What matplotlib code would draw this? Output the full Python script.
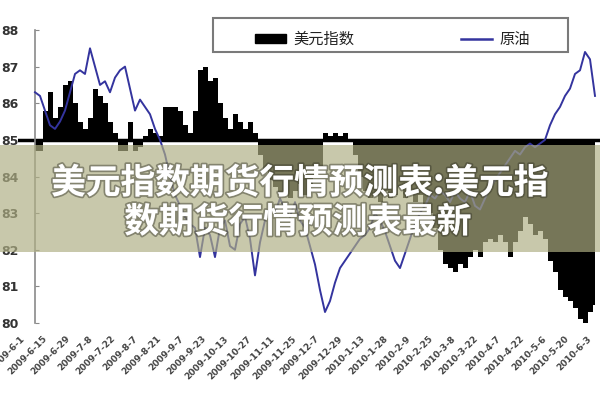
import matplotlib
matplotlib.use("Agg")
import numpy as np
import matplotlib.pyplot as plt
import matplotlib.patches as mpatches
import matplotlib.lines as mlines
import matplotlib.patheffects as pe

plt.rcParams['font.family'] = ['Noto Sans CJK SC', 'DejaVu Sans']

# 美元指数 (weekly readings, same scale as the axis)
dxy = [84.7, 84.7, 85.8, 86.3, 85.6, 85.9, 86.5, 86.6, 86.0, 85.5,
       85.3, 85.6, 86.4, 86.2, 86.0, 85.5, 85.2, 84.7, 84.7, 85.5,
       84.7, 84.8, 85.1, 85.3, 85.2, 85.1, 85.9, 85.9, 85.9, 85.8,
       85.4, 85.2, 85.8, 86.9, 87.0, 86.6, 86.7, 86.0, 85.6, 85.3,
       85.7, 85.5, 85.3, 85.5, 85.2, 84.6, 84.2, 83.9, 83.7, 83.5,
       83.6, 83.4, 83.6, 83.8, 83.5, 83.7, 84.0, 84.3, 85.2, 85.1,
       85.2, 85.1, 85.2, 85.0, 84.6, 84.0, 83.6, 83.4, 83.5, 83.3,
       83.6, 83.4, 83.5, 83.7, 83.4, 83.6, 83.3, 83.5, 83.2, 83.0,
       82.6, 82.0, 81.6, 81.5, 81.4, 81.6, 81.5, 81.8, 82.0, 81.8,
       82.2, 82.3, 82.2, 82.4, 82.2, 81.8, 82.2, 82.5, 82.9, 82.7,
       82.4, 82.5, 82.3, 81.7, 81.4, 80.9, 80.7, 80.6, 80.4, 80.1,
       80.0, 80.3, 80.5]

# 原油 (rescaled onto the same axis)
oil = [86.3, 86.2, 85.8, 85.4, 85.3, 85.5, 85.8, 86.3, 86.8, 86.9,
       86.8, 87.5, 87.0, 86.5, 86.6, 86.3, 86.7, 86.9, 87.0, 86.4,
       85.8, 86.1, 85.9, 85.7, 85.3, 85.0, 84.6, 84.0, 83.5, 83.2,
       82.9, 82.7, 82.6, 81.8, 82.6, 82.4, 81.8, 82.6, 82.8, 82.1,
       82.0, 82.7, 82.9, 82.3, 81.3, 82.2, 82.8, 83.2, 83.0, 83.4,
       83.1, 82.9, 83.3, 82.8, 82.6, 82.1, 81.6, 80.9, 80.3, 80.6,
       81.1, 81.5, 81.7, 81.9, 82.1, 82.3, 82.4, 82.6, 83.0, 82.8,
       82.5, 82.1, 81.7, 81.5, 81.9, 82.3, 82.7, 83.0, 83.2, 83.5,
       83.4, 83.6, 83.5, 83.3, 83.6, 83.4, 83.3, 83.6, 83.2, 83.1,
       83.4, 83.7, 83.9, 84.1, 84.3, 84.5, 84.7, 84.6, 84.8, 84.9,
       84.8, 84.9, 85.0, 85.4, 85.7, 85.9, 86.2, 86.4, 86.8, 86.9,
       87.4, 87.2, 86.2]

date_labels = ['2009-6-1', '2009-6-15', '2009-6-29', '2009-7-8', '2009-7-22',
               '2009-8-7', '2009-8-21', '2009-9-7', '2009-9-23', '2009-10-13',
               '2009-10-27', '2009-11-11', '2009-11-25', '2009-12-7',
               '2009-12-29', '2010-1-13', '2010-1-28', '2010-2-9',
               '2010-2-25', '2010-3-8', '2010-3-22', '2010-4-7',
               '2010-4-22', '2010-5-6', '2010-5-20', '2010-6-3']

y_ticks = [80, 81, 82, 83, 84, 85, 86, 87, 88]
baseline = 85

title_1 = '美元指数期货行情预测表:美元指'
title_2 = '数期货行情预测表最新'

fig = plt.figure(figsize=(6, 4), dpi=100)
ax = fig.add_axes([17.5 / 600, 77 / 400, 582.5 / 600, 293 / 400])

x = np.arange(len(dxy))
ax.fill_between(x, baseline, dxy, step='mid', color='black', linewidth=0)
ax.axhline(baseline, color='black', lw=2.5, zorder=2)
ax.plot(x, oil, color='#34349e', lw=1.4, zorder=3)

ax.set_xlim(-3.5, len(dxy))
ax.set_ylim(80, 88)
ax.spines['left'].set_position(('data', 0))
for s in ['top', 'right', 'bottom']:
    ax.spines[s].set_visible(False)
ax.spines['left'].set_color('#8a8a8a')
ax.spines['left'].set_linewidth(1.2)

ax.set_yticks(y_ticks)
ax.set_yticklabels([str(v) for v in y_ticks], fontsize=9, fontweight='bold',
                   color='#333333', family='DejaVu Sans')
ax.tick_params(axis='y', direction='in', length=3, color='#8a8a8a', pad=12)

xt = np.arange(len(date_labels)) * 4.536 - 3.0
ax.set_xticks(xt)
ax.set_xticklabels(date_labels, rotation=45, ha='right', va='top',
                   rotation_mode='anchor', fontsize=6.5, fontweight='bold',
                   color='#444444', family='DejaVu Sans')
ax.tick_params(axis='x', length=0, pad=8)

# legend: frame drawn separately so the entries can sit inside a wide box
frame = mpatches.Rectangle((213 / 600, 1 - 52 / 400), 355 / 600, 34 / 400,
                           transform=fig.transFigure, facecolor='white',
                           edgecolor='#7a7a7a', linewidth=1.5, zorder=4)
fig.add_artist(frame)
h_dxy = mpatches.Patch(color='black', label='美元指数')
h_oil = mlines.Line2D([], [], color='#34349e', lw=1.8, label='原油')
leg = fig.legend(handles=[h_dxy, h_oil], ncol=2, mode='expand',
                 bbox_to_anchor=(255 / 600, 1 - 48 / 400, 275 / 600, 26 / 400),
                 loc='lower left', fontsize=11, frameon=False,
                 handlelength=2.0, borderpad=0, borderaxespad=0,
                 handleheight=0.6, handletextpad=0.5)
leg.set_zorder(4.5)
for t in leg.get_texts():
    t.set_style('italic')
    t.set_color('#222222')

# banner overlay with title
band = mpatches.Rectangle((0, 1 - 252 / 400), 1, 107 / 400,
                          transform=fig.transFigure, facecolor='#afaf83',
                          alpha=0.68, edgecolor='none', zorder=5)
fig.add_artist(band)
shadow = [pe.withStroke(linewidth=2.5, foreground=(0.2, 0.2, 0.15, 0.45))]
fig.text(0.5, 1 - 183 / 400, title_1, color='white', fontsize=25,
         fontweight='bold', ha='center', va='center', zorder=6,
         path_effects=shadow)
fig.text(298 / 600, 1 - 222 / 400, title_2, color='white', fontsize=25,
         fontweight='bold', ha='center', va='center', zorder=6,
         path_effects=shadow)

fig.savefig('out.png', dpi=100)
